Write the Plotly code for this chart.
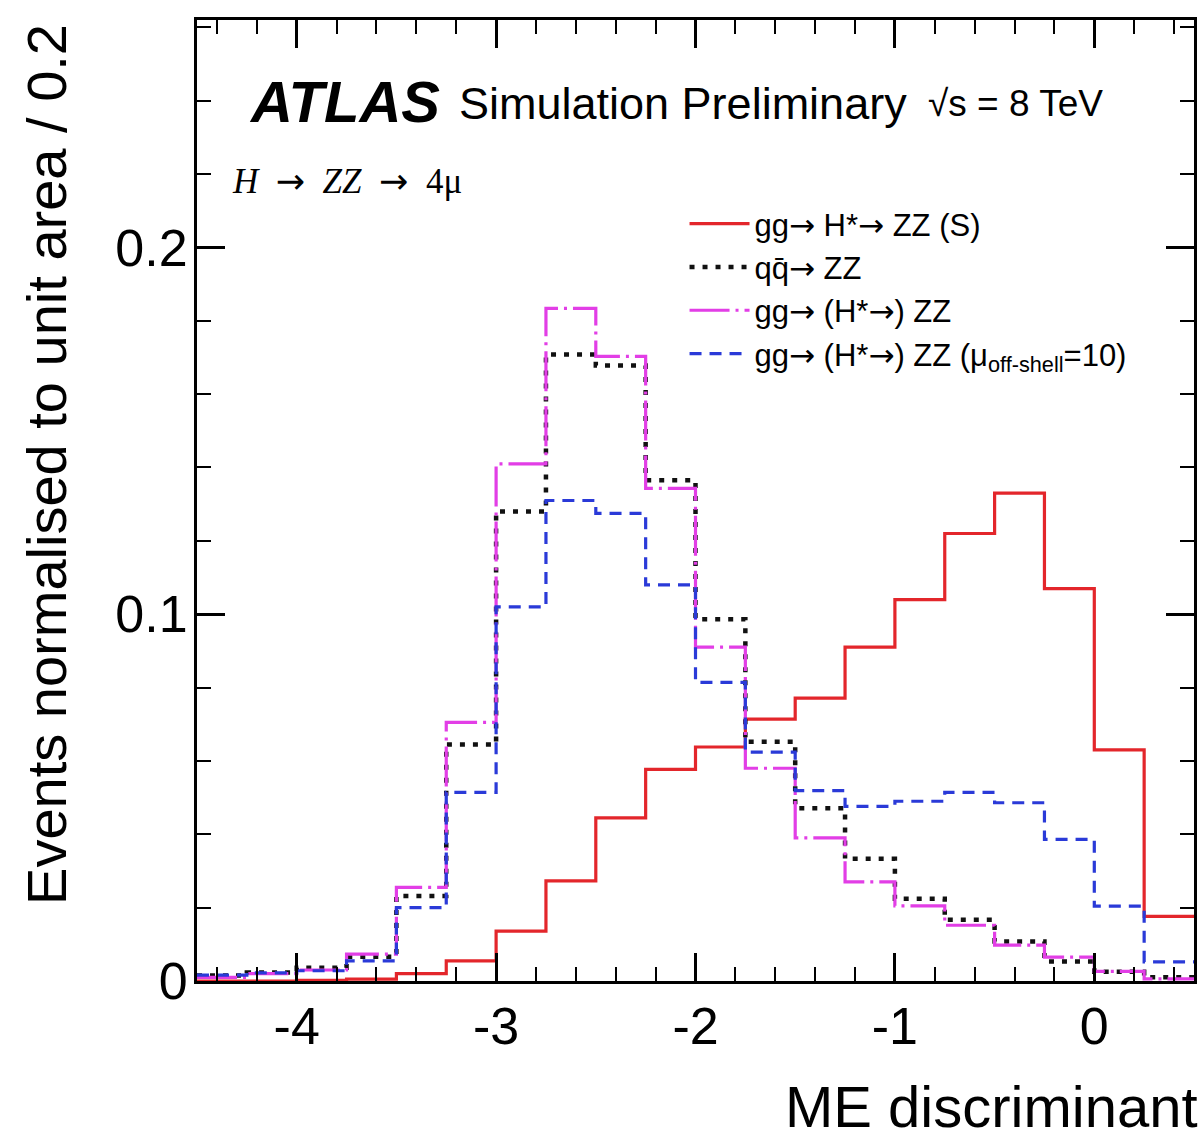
import plotly.graph_objects as go

# ---- data ----
bin_low = -4.5
bin_width = 0.25
n_bins = 20

signal_S = [0.0, 0.0, 0.0002, 0.0005, 0.0020, 0.0055, 0.0136, 0.0273, 0.0445, 0.0577,
            0.0638, 0.0714, 0.0771, 0.0910, 0.1040, 0.1220, 0.1330, 0.1070, 0.0630, 0.0176]
qqZZ = [0.0015, 0.0023, 0.0036, 0.0066, 0.0232, 0.0645, 0.1280, 0.1708, 0.1678, 0.1365,
        0.0986, 0.0652, 0.0471, 0.0333, 0.0224, 0.0167, 0.0108, 0.0053, 0.0025, 0.0010]
ggZZ = [0.0010, 0.0020, 0.0030, 0.0073, 0.0255, 0.0705, 0.1410, 0.1834, 0.1703, 0.1343,
        0.0910, 0.0580, 0.0390, 0.0270, 0.0205, 0.0152, 0.0098, 0.0065, 0.0026, 0.0006]
ggZZ_mu10 = [0.0016, 0.0022, 0.0028, 0.0055, 0.0200, 0.0514, 0.1020, 0.1310, 0.1275, 0.1080,
             0.0814, 0.0624, 0.0519, 0.0476, 0.0490, 0.0514, 0.0486, 0.0386, 0.0204, 0.0052]

ARW = "<span style='font-family:DejaVu Sans'>→</span>"
NB = "\u00a0"
series_names = [f"gg{ARW}{NB}H*{ARW}{NB}ZZ (S)", f"qq̄{ARW}{NB}ZZ", f"gg{ARW}{NB}(H*{ARW}) ZZ",
                f"gg{ARW}{NB}(H*{ARW}) ZZ (μ<sub>off-shell</sub>=10)"]
x_tick_vals = [-4, -3, -2, -1, 0]
y_tick_vals = [0, 0.1, 0.2]
y_tick_text = ["0", "0.1", "0.2"]

edges = [bin_low + i * bin_width for i in range(n_bins + 1)]

FONT = "Liberation Sans, Arial, Helvetica, sans-serif"

styles = [
    dict(color="#e3262b", width=3.2, dash="solid"),
    dict(color="#111111", width=4.5, dash="5px,8px"),
    dict(color="#e23ee6", width=3.2, dash="40px,6px,3px,6px"),
    dict(color="#2a3ad8", width=3.2, dash="12px,8px"),
]
all_series = [signal_S, qqZZ, ggZZ, ggZZ_mu10]

fig = go.Figure()
for vals, name, st in zip(all_series, series_names, styles):
    fig.add_trace(go.Scatter(
        x=edges, y=list(vals) + [vals[-1]],
        mode="lines", line=dict(shape="hv", **st),
        name=name, showlegend=True,
    ))

axis_common = dict(
    showline=True, linecolor="black", linewidth=3, mirror="allticks",
    ticks="inside", tickcolor="black", tickwidth=2.5, ticklen=28,
    showgrid=False, zeroline=False,
    tickfont=dict(family=FONT, size=52, color="black"),
)

fig.update_xaxes(
    range=[-4.5, 0.5], tickvals=x_tick_vals, ticktext=[str(v) for v in x_tick_vals],
    minor=dict(dtick=0.2, tick0=0, ticks="inside", ticklen=14, tickwidth=2, tickcolor="black", showgrid=False),
    ticklabelstandoff=-2,
    **axis_common,
)
fig.update_yaxes(
    range=[0, 0.262], tickvals=y_tick_vals, ticktext=y_tick_text,
    minor=dict(dtick=0.02, tick0=0, ticks="inside", ticklen=14, tickwidth=2, tickcolor="black", showgrid=False),
    ticklabelstandoff=-4,
    **axis_common,
)

L, R, T, B = 197, 4, 20, 159
W, H = 1201, 1140
PW, PH = W - L - R, H - T - B


def px_x(p):
    return (p - L) / PW


def px_y(p):
    return (H - B - p) / PH


annotations = [
    dict(text="<b><i>ATLAS</i></b>", x=px_x(247), y=px_y(101), xanchor="left", yanchor="middle",
         font=dict(family=FONT, size=58, color="black")),
    dict(text="Simulation Preliminary", x=px_x(458), y=px_y(104), xanchor="left", yanchor="middle",
         font=dict(family=FONT, size=45, color="black")),
    dict(text="√s = 8 TeV", x=px_x(928), y=px_y(104), xanchor="left", yanchor="middle",
         font=dict(family=FONT, size=37, color="black")),
    dict(text=f"<i>H</i>{NB} {ARW} {NB}<i>ZZ</i>{NB} {ARW}{NB} 4μ", x=px_x(230), y=px_y(181),
         xanchor="left", yanchor="middle",
         font=dict(family="Liberation Serif, Times New Roman, serif", size=35, color="black")),
    dict(text="ME discriminant", x=1.0, xshift=6, y=px_y(1106), xanchor="right", yanchor="middle",
         font=dict(family=FONT, size=58, color="black")),
    dict(text="Events normalised to unit area / 0.2", x=px_x(46), y=px_y(22), xanchor="center",
         yanchor="top", textangle=-90, font=dict(family=FONT, size=56, color="black")),
]
for a in annotations:
    a.update(xref="paper", yref="paper", showarrow=False)

fig.update_layout(
    width=W, height=H,
    margin=dict(l=L, r=R, t=T, b=B, pad=0),
    plot_bgcolor="white", paper_bgcolor="white",
    annotations=annotations,
    legend=dict(
        x=px_x(686), y=px_y(197), xanchor="left", yanchor="top",
        font=dict(family=FONT, size=31, color="black"),
        bgcolor="rgba(0,0,0,0)", borderwidth=0, itemwidth=60, tracegroupgap=0,
    ),
)

fig.write_html("out.html")
